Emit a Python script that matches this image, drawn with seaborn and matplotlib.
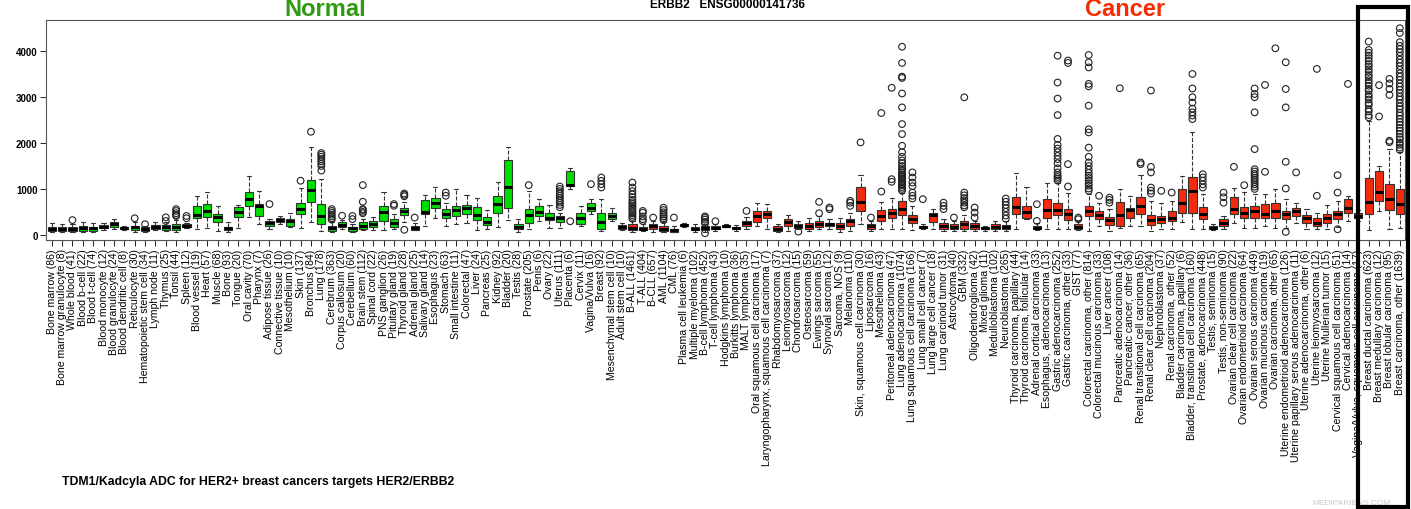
import numpy as np
import pandas as pd
import matplotlib
matplotlib.use("Agg")
import matplotlib.pyplot as plt
from matplotlib.patches import Rectangle
import seaborn as sns

# Category names with sample counts, in plotting order
names = [
    "Bone marrow (86)", "Bone marrow granulocyte (8)", "Whole blood (41)", "Blood b-cell (22)",
    "Blood t-cell (74)", "Blood monocyte (12)", "Blood granulocyte (24)", "Blood dendritic cell (8)",
    "Reticulocyte (30)", "Hematopoietic stem cell (34)", "Lymph node (11)", "Thymus (25)",
    "Tonsil (44)", "Spleen (12)", "Blood vessel (19)", "Heart (57)", "Muscle (68)", "Bone (93)",
    "Tongue (20)", "Oral cavity (70)", "Pharynx (7)", "Adipose tissue (26)", "Connective tissue (10)",
    "Mesothelium (10)", "Skin (137)", "Bronchus (84)", "Lung (178)", "Cerebrum (363)",
    "Corpus callosum (20)", "Cerebellum (60)", "Brain stem (112)", "Spinal cord (22)",
    "PNS ganglion (26)", "Pituitary gland (19)", "Thyroid gland (28)", "Adrenal gland (25)",
    "Salivary gland (14)", "Esophagus (23)", "Stomach (63)", "Small intestine (11)",
    "Colorectal (47)", "Liver (24)", "Pancreas (25)", "Kidney (92)", "Bladder (20)", "Testis (28)",
    "Prostate (205)", "Penis (6)", "Ovary (22)", "Uterus (111)", "Placenta (6)", "Cervix (11)",
    "Vagina/Vulva (16)", "Breast (92)", "Mesenchymal stem cell (10)", "Adult stem cell (10)",
    "B-ALL (1461)", "T-ALL (404)", "B-CLL (657)", "AML (1104)", "CML (76)",
    "Plasma cell leukemia (6)", "Multiple myeloma (102)", "B-cell lymphoma (452)",
    "T-cell lymphoma (43)", "Hodgkins lymphoma (10)", "Burkitts lymphoma (36)", "MALT lymphoma (35)",
    "Oral squamous cell carcinoma (17)", "Laryngopharynx, squamous cell carcinoma (7)",
    "Rhabdomyosarcoma (37)", "Leiomyosarcoma (12)", "Chondrosarcoma (15)", "Osteosarcoma (59)",
    "Ewings sarcoma (55)", "Synovial sarcoma (12)", "Sarcoma, NOS (9)", "Melanoma (110)",
    "Skin, squamous cell carcinoma (30)", "Liposarcoma (16)", "Mesothelioma (43)",
    "Peritoneal adenocarcinoma (47)", "Lung adenocarcinoma (1074)",
    "Lung squamous cell carcinoma (166)", "Lung small cell cancer (7)", "Lung large cell cancer (18)",
    "Lung carcinoid tumor (31)", "Astrocytoma (40)", "GBM (332)", "Oligodendroglioma (42)",
    "Mixed glioma (11)", "Medulloblastoma (102)", "Neuroblastoma (265)",
    "Thyroid carcinoma, papillary (44)", "Thyroid carcinoma, follicular (14)",
    "Adrenal cortical carcinoma (33)", "Esophagus, adenocarcinoma (13)",
    "Gastric adenocarcinoma (252)", "Gastric carcinoma, other (33)", "GIST (77)",
    "Colorectal carcinoma, other (814)", "Colorectal mucinous carcinoma (33)", "Liver cancer (108)",
    "Pancreatic adenocarcinoma (14)", "Pancreatic cancer, other (36)",
    "Renal transitional cell carcinoma (65)", "Renal clear cell carcinoma (204)",
    "Nephroblastoma (37)", "Renal carcinoma, other (52)", "Bladder carcinoma, papillary (6)",
    "Bladder, transitional cell carcinoma (160)", "Prostate, adenocarcinoma (448)",
    "Testis, seminoma (15)", "Testis, non-seminoma (90)", "Ovarian clear cell carcinoma (22)",
    "Ovarian endometrioid carcinoma (64)", "Ovarian serous carcinoma (449)",
    "Ovarian mucinous carcinoma (19)", "Ovarian carcinoma, other (65)",
    "Uterine endometrioid adenocarcinoma (126)", "Uterine papillary serous adenocarcinoma (11)",
    "Uterine adenocarcinoma, other (6)", "Uterine leiomyosarcoma (12)",
    "Uterine Mullerian tumor (15)", "Cervical squamous cell carcinoma (51)",
    "Cervical adenocarcinoma (14)", "Vagina/Vulva, squamous cell carcinoma (17)",
    "Breast ductal carcinoma (623)", "Breast medullary carcinoma (12)",
    "Breast lobular carcinoma (95)", "Breast carcinoma, other (1639)",
]
n_normal = 56
groups = ["Normal"] * n_normal + ["Cancer"] * (len(names) - n_normal)

# five-number summaries
lo = [50, 60, 55, 60, 55, 110, 120, 110, 70, 70, 95, 80, 70, 150, 125, 140, 87, 70, 140, 378,
      233, 125, 240, 170, 140, 284, 87, 50, 130, 50, 100, 110, 109, 120, 280, 100, 193, 375, 193, 230,
      266, 100, 120, 178, 324, 60, 120, 300, 150, 150, 1000, 200, 450, 80, 300, 110,
      60, 80, 60, 60, 60, 170, 70, 60, 80, 160, 80, 120, 200, 120, 60, 80, 120, 80, 120, 120,
      60, 80, 230, 80, 120, 120, 120, 100, 130, 120, 80, 80, 80, 80, 90, 90, 80, 120, 338, 100,
      120, 120, 120, 100, 80, 200, 80, 150, 193, 200, 80, 130, 120, 280, 120, 120, 100, 120, 250,
      150, 150, 200, 150, 150, 250, 120, 120, 120, 180, 300, 300, 106, 520, 135, 150]
q1 = [73, 87, 80, 87, 80, 138, 175, 124, 110, 87, 124, 110, 100, 167, 364, 378, 284, 109, 378, 618,
      415, 196, 270, 196, 451, 705, 233, 87, 160, 87, 124, 160, 305, 160, 429, 110, 448, 594, 375, 411,
      448, 324, 207, 470, 594, 120, 266, 411, 324, 280, 1067, 230, 520, 120, 339, 135,
      110, 98, 135, 90, 70, 185, 98, 110, 120, 175, 120, 200, 280, 375, 84, 193, 157, 135, 178, 193,
      135, 200, 520, 135, 302, 375, 426, 266, 150, 280, 135, 135, 135, 135, 120, 135, 120, 448, 364, 120,
      375, 433, 324, 135, 411, 339, 207, 193, 375, 448, 207, 251, 302, 484, 484, 339, 120, 193, 448,
      375, 375, 375, 375, 339, 411, 251, 200, 251, 339, 484, 375, 448, 739, 543, 448]
med = [125, 130, 125, 150, 140, 175, 230, 145, 165, 125, 175, 175, 180, 195, 430, 524, 378, 145, 487, 778,
       618, 255, 327, 290, 560, 982, 415, 153, 211, 138, 196, 233, 487, 255, 524, 157, 499, 688, 462, 543,
       594, 426, 288, 666, 1031, 178, 426, 499, 375, 360, 1082, 375, 594, 280, 411, 178,
       157, 120, 186, 135, 98, 207, 135, 157, 150, 193, 150, 251, 411, 448, 135, 280, 193, 193, 244, 230,
       193, 302, 717, 193, 411, 484, 557, 353, 164, 426, 193, 178, 230, 193, 142, 178, 164, 615, 499, 150,
       542, 542, 448, 178, 513, 426, 317, 426, 542, 630, 324, 338, 375, 703, 958, 448, 157, 266, 571,
       470, 520, 448, 520, 448, 520, 375, 251, 375, 448, 593, 411, 717, 936, 790, 666]
q3 = [160, 175, 160, 200, 175, 210, 284, 175, 196, 160, 211, 211, 233, 226, 633, 669, 451, 175, 596, 924,
      669, 306, 360, 342, 691, 1200, 669, 196, 270, 175, 270, 306, 633, 342, 575, 190, 760, 812, 557, 630,
      645, 615, 397, 848, 1628, 230, 572, 630, 470, 411, 1395, 470, 688, 470, 484, 207,
      230, 170, 230, 193, 135, 230, 164, 193, 193, 215, 178, 310, 520, 524, 193, 338, 230, 251, 302, 266,
      266, 353, 1052, 230, 542, 571, 739, 433, 190, 484, 266, 230, 302, 251, 170, 230, 207, 834, 630, 193,
      776, 688, 571, 230, 630, 520, 397, 717, 594, 834, 426, 411, 520, 1009, 1264, 615, 193, 338, 834,
      615, 630, 666, 703, 520, 594, 440, 375, 448, 520, 776, 470, 1228, 1395, 1104, 1009]
hi = [255, 230, 230, 270, 255, 255, 340, 183, 270, 200, 270, 270, 330, 250, 850, 938, 618, 270, 640, 1287,
      960, 350, 415, 480, 1010, 1905, 1214, 270, 320, 240, 342, 380, 938, 450, 720, 250, 863, 1031, 700, 994,
      863, 812, 543, 1154, 1919, 338, 958, 780, 640, 480, 1446, 630, 780, 776, 590, 250,
      300, 230, 300, 270, 200, 250, 230, 230, 230, 230, 215, 380, 703, 666, 230, 426, 300, 375, 410, 338,
      375, 480, 1300, 300, 720, 812, 921, 630, 230, 560, 338, 300, 426, 300, 190, 300, 300, 1340, 1031, 250,
      1125, 1125, 921, 300, 900, 700, 560, 1009, 850, 1300, 740, 700, 740, 1271, 2232, 900, 230, 400, 1010,
      930, 900, 900, 1000, 780, 700, 570, 480, 640, 740, 850, 550, 2484, 1490, 1868, 1795]

# outlying points (open circles), one list per category
outliers = [
    [], [], [320], [], [], [], [], [], [360], [230], [], [300, 380], [410, 430, 470, 520, 560],
    [360, 410], [], [], [], [], [], [], [], [669], [], [], [1178], [2247],
    [1400, 1500, 1550, 1600, 1650, 1700, 1745, 1782], [330, 360, 400, 440, 480, 520, 560], [415],
    [342, 410], [470, 500, 540, 560, 720, 1083], [], [], [633, 669], [109, 840, 870, 900], [375],
    [], [], [850, 921], [], [], [], [], [], [], [], [1082], [], [],
    [600, 650, 700, 750, 800, 850, 900, 950, 1000, 1052], [295], [], [1104], [1031, 1104, 1176, 1249],
    [], [],
    [350, 390, 430, 470, 510, 550, 590, 630, 670, 710, 760, 820, 880, 950, 1030, 1140],
    [300, 340, 400, 480, 520], [375], [320, 360, 400, 440, 490, 540, 590], [375], [], [],
    [33, 250, 280, 330, 370, 400], [295], [], [], [520], [], [], [], [], [70], [], [470, 717],
    [557, 594], [], [630, 700, 740], [2014], [375], [943, 2655], [1155, 1212, 3205],
    [960, 1000, 1040, 1080, 1110, 1140, 1170, 1200, 1230, 1260, 1290, 1320, 1360, 1400, 1450,
     1500, 1560, 1620, 1700, 1800, 1940, 2196, 2414, 2778, 3081, 3420, 3448, 3747, 4100],
    [790, 850, 920, 1060, 1140, 1250, 1360], [776], [], [560, 630, 700], [375],
    [600, 640, 700, 750, 800, 860, 920, 2997], [375, 484, 594], [], [],
    [350, 420, 500, 580, 650, 720, 790], [], [], [302, 666], [],
    [1180, 1220, 1260, 1300, 1360, 1450, 1560, 1650, 1720, 1800, 1880, 1960, 2090, 2610, 2970,
     3320, 3905],
    [1052, 1540, 3747, 3800], [340, 375],
    [960, 1010, 1070, 1120, 1180, 1240, 1290, 1350, 1420, 1500, 1577, 1700, 1900, 2232, 2300,
     2815, 3237, 3290, 3650, 3760, 3920],
    [850], [700, 760, 810], [3195], [], [1540, 1577], [900, 960, 1030, 1360, 1480, 3145], [958],
    [921], [], [2523, 2600, 2670, 2750, 2884, 3000, 3190, 3507], [1030, 1100, 1180, 1250, 1320],
    [], [700, 820, 920], [1482], [1082],
    [1000, 1050, 1100, 1150, 1200, 1240, 1290, 1330, 1380, 1430, 1868, 2670, 3000, 3070, 3190],
    [1373, 3267], [4067], [62, 1009, 1591, 2778, 3180, 3762], [1360], [], [850, 3617], [],
    [120, 920, 1300], [3290], [],
    [2560, 2610, 2690, 2740, 2830, 2870, 2950, 3010, 3060, 3140, 3180, 3250, 3310, 3370, 3440,
     3480, 3550, 3610, 3670, 3720, 3790, 3850, 3910, 3970, 4030, 4213],
    [2580, 3263], [2020, 2050, 3050, 3180, 3300, 3400],
    [1850, 1900, 1960, 2010, 2080, 2130, 2200, 2270, 2330, 2400, 2460, 2530, 2600, 2660, 2740,
     2800, 2870, 2950, 3010, 3090, 3160, 3230, 3300, 3380, 3450, 3520, 3600, 3680, 3750, 3820,
     3900, 3980, 4050, 4120, 4200, 4400, 4504],
]

# long tables for seaborn
rows = []
for i, nm in enumerate(names):
    for v in (lo[i], q1[i], med[i], q3[i], hi[i]):
        rows.append({"name": nm, "value": v, "group": groups[i]})
df = pd.DataFrame(rows)

out_rows = []
for i, nm in enumerate(names):
    for v in outliers[i]:
        out_rows.append({"name": nm, "value": v})
df_out = pd.DataFrame(out_rows)

sns.set_theme(style="ticks")
plt.rcParams["font.family"] = ["Liberation Sans", "DejaVu Sans"]
plt.rcParams["text.color"] = "black"
plt.rcParams["xtick.color"] = "black"
plt.rcParams["ytick.color"] = "black"
plt.rcParams["xtick.labelcolor"] = "black"
plt.rcParams["ytick.labelcolor"] = "black"

fig = plt.figure(figsize=(14.11, 5.10), dpi=100)
ax = fig.add_axes([46 / 1411, 1 - 241 / 510, (1405 - 46) / 1411, (241 - 20.7) / 510])

sns.boxplot(data=df, x="name", y="value", hue="group", order=names,
            hue_order=["Normal", "Cancer"],
            palette={"Normal": "#00e000", "Cancer": "#f42a0c"},
            whis=np.inf, width=0.8, dodge=False, saturation=1,
            linecolor="#333333", linewidth=0.8, fliersize=0, legend=False,
            medianprops=dict(linewidth=2.2, color="black"),
            whiskerprops=dict(linestyle="--"), ax=ax)

n_before = len(ax.collections)
sns.stripplot(data=df_out, x="name", y="value", order=names, jitter=False,
              size=4.8, color="black", ax=ax)
for coll in ax.collections[n_before:]:
    coll.set_facecolor("none")
    coll.set_edgecolor("#222222")
    coll.set_linewidth(0.8)

ax.set_xlim(-0.55, 130.5)
ax.set_ylim(-114, 4690)
ax.set_yticks([0, 1000, 2000, 3000, 4000])
ax.set_xlabel("")
ax.set_ylabel("")
for sp in ax.spines.values():
    sp.set_visible(True)
    sp.set_color("#555555")
    sp.set_linewidth(0.8)
ax.tick_params(axis="x", labelrotation=90, labelsize=7.6, length=4, width=0.6, pad=2)
ax.tick_params(axis="y", labelsize=7, length=4, width=0.6, pad=2)
for t in ax.get_yticklabels():
    t.set_fontweight("bold")

# headings
fig.text(325 / 1411, 1 - 9 / 510, "Normal", color="#2d9a12", fontsize=17, fontweight="bold",
         ha="center", va="center")
fig.text(1125 / 1411, 1 - 9 / 510, "Cancer", color="#f62c00", fontsize=17, fontweight="bold",
         ha="center", va="center")
fig.text(727 / 1411, 1 - 5 / 510, "ERBB2   ENSG00000141736", color="black", fontsize=8.5,
         fontweight="bold", ha="center", va="center")
fig.text(62 / 1411, 1 - 482 / 510, "TDM1/Kadcyla ADC for HER2+ breast cancers targets HER2/ERBB2",
         fontsize=8.8, fontweight="bold", ha="left", va="center", color="black")
fig.text(1352 / 1411, 1 - 504 / 510, "MEDIPARIENS.COM", color="#c8c8c8", fontsize=6,
         ha="center", va="center")

# highlight box around breast carcinomas
fig.add_artist(Rectangle((1358 / 1411, 1 - 508 / 510), 50 / 1411, 500 / 510,
                         transform=fig.transFigure, fill=False, edgecolor="black",
                         linewidth=3, zorder=10))

fig.savefig("out.png", dpi=100)
